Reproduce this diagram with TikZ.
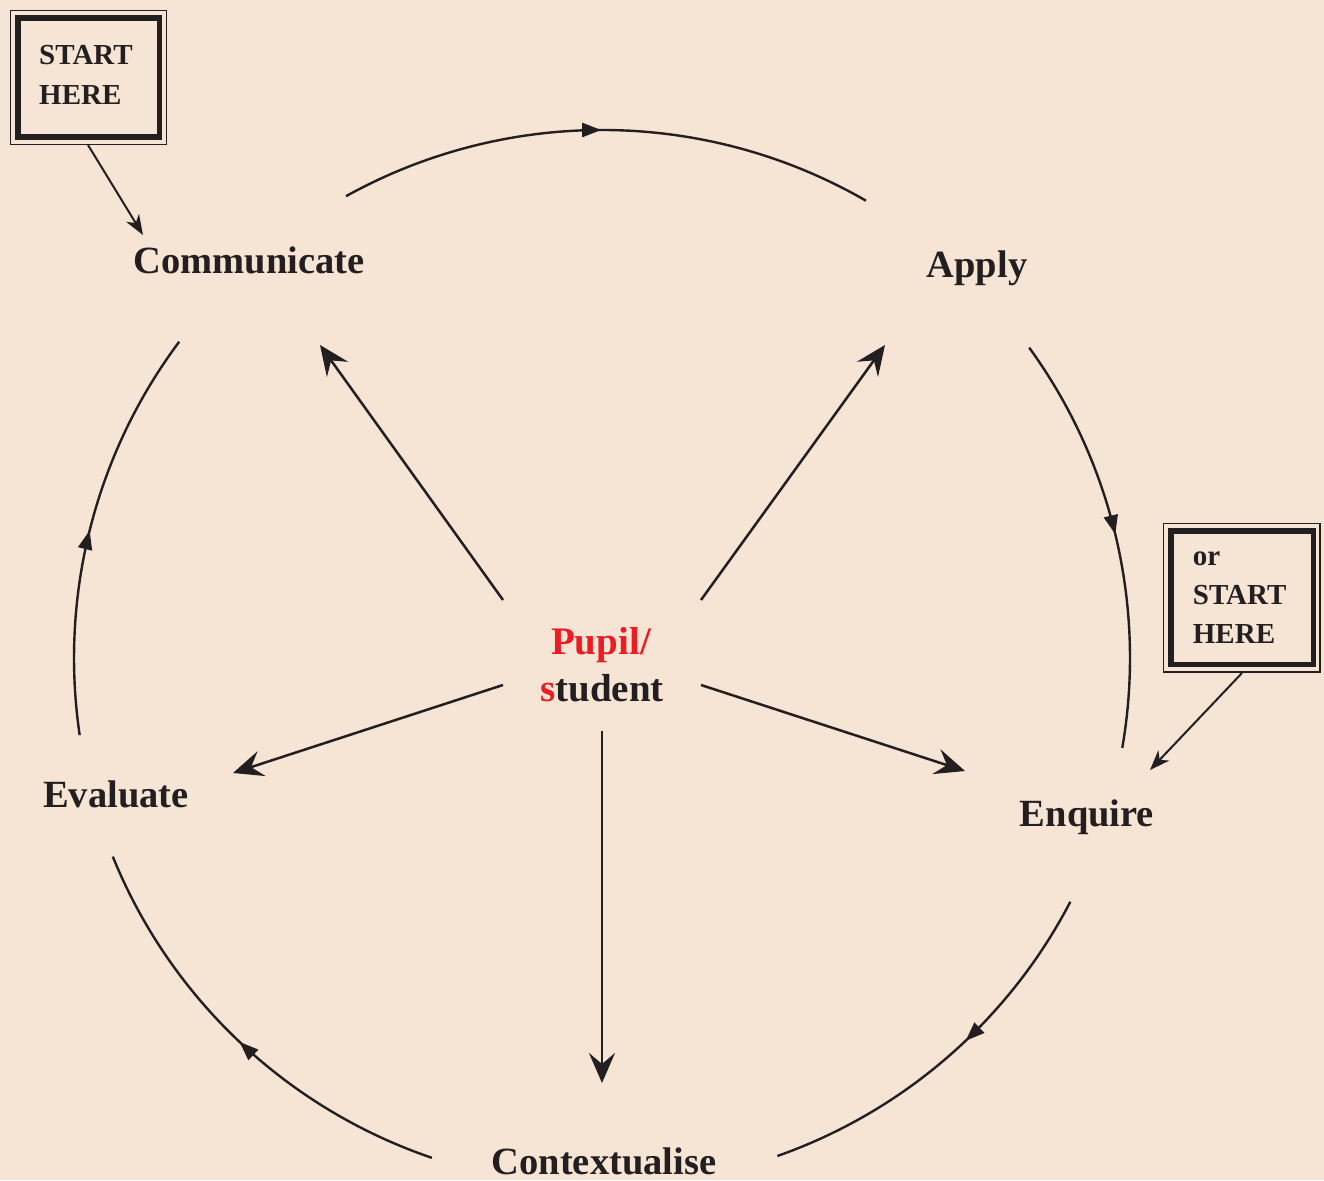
\documentclass[tikz,border=0pt]{standalone}
\usepackage{fontspec}
\setmainfont{Liberation Serif}
\usetikzlibrary{arrows.meta,decorations.markings}
\definecolor{bg}{HTML}{F6E4D4}
\definecolor{ink}{HTML}{231F20}
\definecolor{pred}{HTML}{ED1C24}
\begin{document}
\begin{tikzpicture}[x=1pt,y=1pt,
  lbl/.style={anchor=base,inner sep=0pt,text=ink,font=\bfseries\fontsize{38.5}{44}\selectfont},
  ctr/.style={anchor=base,inner sep=0pt,font=\bfseries\fontsize{39}{44}\selectfont},
  boxtxt/.style={anchor=base west,inner sep=0pt,text=ink,font=\bfseries\fontsize{29}{36}\selectfont},
  circ/.style={draw=ink,line width=2.4pt,postaction={decorate},
    decoration={markings,mark=at position #1 with {\arrow{Triangle[length=19pt,width=14pt]}}}},
  circ/.default=0.5,
  radial/.style={draw=ink,line width=2.5pt,-{Stealth[length=30pt,width=26pt,inset=11pt]}},
  startarrow/.style={draw=ink,line width=2pt,-{Stealth[length=20pt,width=15pt,inset=6pt]}},
  thinframe/.style={draw=ink,line width=1.2pt},
  thickframe/.style={draw=ink,line width=5.5pt}]
\useasboundingbox (0,0) rectangle (1324,1180);
\fill[bg] (0,0) rectangle (1324,1180);

\coordinate (O) at (602,522);

% labels
\node[lbl] (comm) at (249,906) {Communicate};
\node[lbl] (apply) at (977,902) {Apply};
\node[lbl] (enq) at (1087,353) {Enquire};
\node[lbl] (ctx) at (604,6) {Contextualise};
\node[lbl] (eval) at (116,372) {Evaluate};
\node[ctr,text=pred] (pupil) at (601,525) {Pupil/};
\node[ctr,text=ink] (student) at (602,478) {\textcolor{pred}{s}tudent};

% circle arcs
\coordinate (a1s) at ([shift={(O)}]119:528pt);
\coordinate (a2s) at ([shift={(O)}]36:528pt);
\coordinate (a3s) at ([shift={(O)}]-27.5:528pt);
\coordinate (a4s) at ([shift={(O)}]251.2:528pt);
\coordinate (a5s) at ([shift={(O)}]188.4:528pt);
\draw[circ=0.49] (a1s) arc[start angle=119,end angle=60,radius=528pt];
\draw[circ=0.49] (a2s) arc[start angle=36,end angle=-9.8,radius=528pt];
\draw[circ=0.44] (a3s) arc[start angle=-27.5,end angle=-70.6,radius=528pt];
\draw[circ=0.5] (a4s) arc[start angle=251.2,end angle=202.1,radius=528pt];
\draw[circ=0.495] (a5s) arc[start angle=188.4,end angle=143.2,radius=528pt];

% radial arrows
\coordinate (rcs) at (503,580); \coordinate (rce) at (320,835);
\coordinate (ras) at (701,580); \coordinate (rae) at (885,835);
\coordinate (rvs) at (503,495); \coordinate (rve) at (233,407);
\coordinate (rqs) at (701,495); \coordinate (rqe) at (965,409);
\coordinate (rxs) at (602,449); \coordinate (rxe) at (602,97);
\draw[radial] (rcs) -- (rce);
\draw[radial] (ras) -- (rae);
\draw[radial] (rvs) -- (rve);
\draw[radial] (rqs) -- (rqe);
\draw[radial] (rxs) -- (rxe);

% start box 1
\draw[thinframe] (10.5,1169.5) rectangle (166.5,1035.5);
\draw[thickframe] (17.8,1162.2) rectangle (159.5,1042.8);
\node[boxtxt] (s1a) at (39,1115) {START};
\node[boxtxt] (s1b) at (39,1075) {HERE};
\coordinate (b1s) at (88,1035); \coordinate (b1e) at (143,945);
\draw[startarrow] (b1s) -- (b1e);

% start box 2
\draw[thinframe] (1163.5,656.5) rectangle (1320,508);
\draw[thickframe] (1171.2,648.8) rectangle (1313.3,515.5);
\node[boxtxt] (s2a) at (1192.7,614) {or};
\node[boxtxt] (s2b) at (1192.7,575) {START};
\node[boxtxt] (s2c) at (1192.7,536) {HERE};
\coordinate (b2s) at (1242,507); \coordinate (b2e) at (1150,410);
\draw[startarrow] (b2s) -- (b2e);
\end{tikzpicture}
\end{document}
